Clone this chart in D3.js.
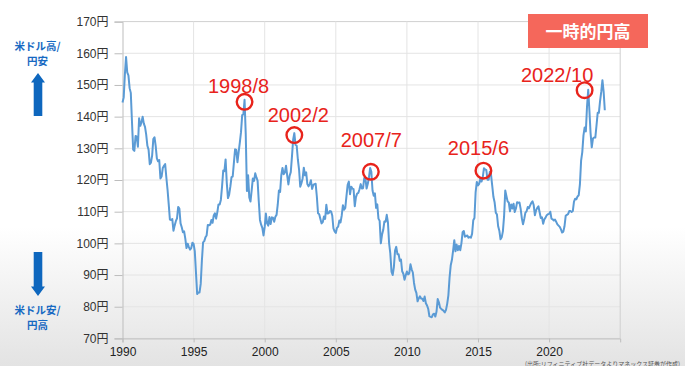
<!DOCTYPE html>
<html>
<head>
<meta charset="utf-8">
<script src="https://cdn.jsdelivr.net/npm/d3@7/dist/d3.min.js"></script>
<style>
  html, body { margin: 0; padding: 0; }
  body { width: 685px; height: 366px; overflow: hidden; }
  svg { display: block; }
</style>
</head>
<body>
<svg id="chart" width="685" height="366"></svg>
<script>
// ---------------- DATA ----------------
const startYear = 1990;
// USD/JPY monthly rates, Jan 1990 .. Dec 2023 (one row per year)
const monthlyRates = [
  144.5, 146.0, 153.3, 158.8, 154.0, 153.0, 149.0, 147.5, 138.4, 129.6, 129.2, 133.9, // 1990
  133.7, 130.5, 139.5, 137.1, 138.2, 140.0, 137.8, 136.8, 134.3, 130.8, 129.6, 125.0, // 1991
  125.5, 127.7, 132.9, 133.5, 130.8, 126.8, 125.9, 126.3, 120.5, 121.1, 123.8, 124.5, // 1992
  125.0, 120.8, 117.0, 112.4, 107.5, 107.4, 107.7, 104.0, 105.6, 107.0, 107.9, 111.5, // 1993
  111.0, 106.3, 105.1, 103.5, 103.8, 101.5, 98.5, 99.9, 98.8, 98.0, 98.5, 100.2,      // 1994
  99.8, 97.5, 90.8, 84.0, 84.5, 84.5, 87.2, 94.6, 100.3, 100.7, 101.9, 102.5,         // 1995
  105.8, 105.7, 105.9, 107.4, 106.5, 108.8, 109.5, 107.8, 109.8, 112.3, 112.3, 113.7, // 1996
  117.9, 123.0, 122.8, 126.5, 119.1, 114.3, 115.4, 117.9, 120.9, 121.1, 125.4, 129.7, // 1997
  129.5, 125.6, 128.8, 131.8, 135.1, 140.5, 140.7, 145.3, 134.5, 116.5, 121.5, 114.5, // 1998
  113.2, 116.7, 120.5, 119.7, 122.1, 120.8, 119.8, 113.3, 107.4, 105.9, 104.9, 102.5, // 1999
  105.2, 109.4, 106.3, 105.6, 108.3, 106.1, 108.2, 108.1, 106.8, 108.4, 109.0, 112.2, // 2000
  116.7, 116.2, 121.5, 123.8, 121.8, 122.4, 124.5, 121.4, 118.6, 121.3, 122.5, 127.4, // 2001
  132.7, 134.8, 131.1, 130.8, 126.4, 123.3, 117.9, 119.0, 120.5, 123.9, 121.5, 122.4, // 2002
  118.7, 118.0, 118.7, 119.9, 117.2, 118.4, 118.7, 118.8, 114.8, 109.5, 109.2, 107.7, // 2003
  106.3, 106.7, 108.5, 107.7, 112.2, 109.4, 109.5, 110.2, 110.1, 108.8, 104.7, 103.8, // 2004
  103.3, 104.9, 105.3, 107.2, 106.6, 108.8, 112.0, 110.6, 111.2, 114.9, 118.5, 119.5, // 2005
  115.5, 117.9, 117.3, 117.1, 111.7, 114.6, 115.7, 115.9, 117.1, 118.7, 117.3, 117.4, // 2006
  120.6, 120.5, 117.3, 118.8, 120.8, 123.8, 122.6, 116.7, 115.0, 115.8, 111.2, 112.3, // 2007
  107.8, 107.1, 100.0, 102.7, 104.2, 106.9, 106.8, 109.0, 106.6, 100.0, 96.8, 91.1,   // 2008
  90.0, 92.5, 97.7, 98.9, 96.6, 96.6, 94.5, 94.9, 91.2, 90.4, 88.5, 89.9,             // 2009
  91.1, 90.2, 90.5, 93.4, 91.8, 90.8, 87.5, 85.4, 84.4, 81.7, 82.6, 83.3,             // 2010
  82.6, 82.5, 81.8, 83.2, 81.1, 80.4, 79.3, 77.0, 76.8, 76.7, 77.6, 77.8,             // 2011
  76.9, 78.5, 82.4, 81.4, 79.7, 79.3, 79.0, 78.7, 78.2, 79.0, 80.9, 83.6,             // 2012
  89.2, 93.1, 94.8, 97.7, 101.0, 97.5, 99.6, 97.8, 99.2, 97.8, 100.0, 103.5,          // 2013
  103.9, 102.1, 102.3, 102.5, 101.8, 102.0, 101.8, 103.0, 107.3, 108.0, 116.2, 119.4, // 2014
  118.3, 118.8, 120.4, 119.5, 120.8, 123.7, 123.3, 123.2, 120.1, 120.1, 122.6, 121.6, // 2015
  118.2, 114.7, 113.0, 109.7, 109.1, 105.4, 104.0, 101.3, 101.9, 103.8, 108.5, 116.7, // 2016
  114.9, 113.2, 112.9, 110.1, 112.3, 111.0, 112.5, 109.9, 111.0, 113.0, 112.8, 112.9, // 2017
  110.9, 107.9, 106.0, 107.7, 109.7, 110.1, 111.5, 111.1, 112.0, 112.8, 113.3, 112.1, // 2018
  108.9, 110.4, 111.2, 111.7, 109.8, 108.0, 108.2, 106.2, 107.6, 108.1, 108.9, 109.2, // 2019
  109.3, 110.0, 107.8, 107.6, 107.2, 107.5, 106.8, 106.0, 105.6, 105.2, 104.4, 103.4, // 2020
  103.7, 105.4, 108.7, 109.0, 109.2, 110.2, 110.2, 109.9, 110.2, 113.2, 114.1, 113.9, // 2021
  114.8, 115.2, 118.6, 126.1, 128.8, 134.1, 136.6, 135.3, 143.2, 148.5, 142.0, 134.8, // 2022
  130.3, 133.1, 133.4, 133.4, 137.2, 141.2, 141.2, 144.9, 147.8, 151.5, 148.0, 142.0  // 2023
];

const xDomain = [1990, 2025];
const xTickYears = [1990, 1995, 2000, 2005, 2010, 2015, 2020];
const xGridYears = [1995, 2000, 2005, 2010, 2015, 2020, 2025];
const yDomain = [70, 170];
const yTickValues = [70, 80, 90, 100, 110, 120, 130, 140, 150, 160, 170];
const yUnit = "円";

// Annotated peaks: label, year, month
const peakLabels = ["1998/8", "2002/2", "2007/7", "2015/6", "2022/10"];
const peakYears  = [1998, 2002, 2007, 2015, 2022];
const peakMonths = [8, 2, 7, 6, 10];

const boxText = "一時的円高";
const upText = ["米ドル高/", "円安"];
const downText = ["米ドル安/", "円高"];
const sourceText = "(出所:リフィニティブ社データよりマネックス証券が作成)";

// ---------------- LAYOUT ----------------
const W = 685, H = 366;
const plot = { left: 122.5, right: 620.2, top: 21.6, bottom: 338.4 };
// per-annotation offsets: circle offset from data point, label baseline offset from circle centre
const annLayout = [
  { cdx: 0,    cdy: 2,   ldx: -6,   ldy: -9 },
  { cdx: 0,    cdy: 2,   ldx: 4,    ldy: -13 },
  { cdx: -0.5, cdy: 0,   ldx: 0.5,  ldy: -25 },
  { cdx: -0.5, cdy: 2.4, ldx: -5,   ldy: -16 },
  { cdx: -3.6, cdy: 0.5, ldx: -27.5,ldy: -8 }
];

const svg = d3.select("#chart");

// Background gradient
const defs = svg.append("defs");
const grad = defs.append("linearGradient").attr("id", "bg").attr("x1", 0).attr("y1", 0).attr("x2", 0).attr("y2", 1);
grad.append("stop").attr("offset", "0%").attr("stop-color", "#ffffff");
grad.append("stop").attr("offset", "62%").attr("stop-color", "#ffffff");
grad.append("stop").attr("offset", "100%").attr("stop-color", "#e3e3e3");
svg.append("rect").attr("x", 0).attr("y", 0).attr("width", W).attr("height", H).attr("fill", "url(#bg)");

const x = d3.scaleLinear().domain(xDomain).range([plot.left, plot.right]);
const y = d3.scaleLinear().domain(yDomain).range([plot.bottom, plot.top]);

const series = monthlyRates.map((v, i) => ({ t: startYear + i / 12, v }));

const fontNum = "'Liberation Sans', Arial, 'Noto Sans CJK JP', sans-serif";
const fontJP = "'Noto Sans CJK JP', sans-serif";

// Grid lines (horizontal)
svg.append("g").selectAll("line.hg").data(yTickValues).join("line")
  .attr("x1", plot.left).attr("x2", plot.right)
  .attr("y1", d => y(d)).attr("y2", d => y(d))
  .attr("stroke", d => d === 170 ? "#d0d0d0" : "#e4e4e4").attr("stroke-width", 1);

// Grid lines (vertical)
svg.append("g").selectAll("line.vg").data(xGridYears).join("line")
  .attr("x1", d => x(d)).attr("x2", d => x(d))
  .attr("y1", plot.top).attr("y2", plot.bottom)
  .attr("stroke", d => d === 2025 ? "#cfcfcf" : "#e4e4e4").attr("stroke-width", 1);

// Y axis
const yAxis = d3.axisLeft(y).tickValues(yTickValues).tickSize(8).tickPadding(6)
  .tickFormat(d => d + yUnit);
const gy = svg.append("g").attr("transform", `translate(${plot.left},0)`).call(yAxis);
gy.select(".domain").attr("stroke", "#bdbdbd");
gy.selectAll(".tick line").attr("stroke", "#bdbdbd");
gy.selectAll(".tick text").attr("font-family", fontNum).attr("font-size", 12).attr("fill", "#333");

// X axis
const xAxis = d3.axisBottom(x).tickValues(xTickYears).tickSize(4).tickPadding(5).tickFormat(d3.format("d"));
const gx = svg.append("g").attr("transform", `translate(0,${plot.bottom})`).call(xAxis);
gx.select(".domain").attr("stroke", "#bdbdbd");
gx.selectAll(".tick line").attr("stroke", "#bdbdbd");
gx.selectAll(".tick text").attr("font-family", fontNum).attr("font-size", 12).attr("fill", "#222");

// Line
const line = d3.line().x(d => x(d.t)).y(d => y(d.v));
svg.append("path").datum(series).attr("d", line)
  .attr("fill", "none").attr("stroke", "#5B9BD5").attr("stroke-width", 2)
  .attr("stroke-linejoin", "round");

// Annotations
const ann = peakLabels.map((label, i) => {
  const idx = (peakYears[i] - startYear) * 12 + (peakMonths[i] - 1);
  const d = series[idx];
  const L = annLayout[i];
  const cx = x(d.t) + L.cdx, cy = y(d.v) + L.cdy;
  return { label, cx, cy, lx: cx + L.ldx, ly: cy + L.ldy };
});
const ga = svg.append("g");
ga.selectAll("circle").data(ann).join("circle")
  .attr("cx", d => d.cx).attr("cy", d => d.cy).attr("r", 7.8)
  .attr("fill", "none").attr("stroke", "#E8231B").attr("stroke-width", 2.4);
ga.selectAll("text").data(ann).join("text")
  .attr("x", d => d.lx).attr("y", d => d.ly)
  .attr("text-anchor", "middle").attr("font-family", fontNum).attr("font-size", 20)
  .attr("fill", "#E8231B").text(d => d.label);

// Red box
const gb = svg.append("g");
gb.append("rect").attr("x", 528).attr("y", 14).attr("width", 120).attr("height", 34).attr("fill", "#F5675B");
gb.append("text").attr("x", 588).attr("y", 37.5).attr("text-anchor", "middle")
  .attr("font-family", fontJP).attr("font-weight", "bold").attr("font-size", 17)
  .attr("fill", "#ffffff").text(boxText);

// Left side arrows + labels
const blue = "#1769C2";
const gl = svg.append("g");
function twoLine(lines, baseY) {
  lines.forEach((s, i) => {
    gl.append("text").attr("text-anchor", "middle")
      .attr("x", 37.5).attr("y", baseY + i * 15.3)
      .attr("font-family", fontJP).attr("font-weight", "bold").attr("font-size", 10.5)
      .attr("fill", blue).text(s);
  });
}
twoLine(upText, 50);
twoLine(downText, 313.5);
const ax = 38;
gl.append("path")
  .attr("d", `M${ax},73 L${ax + 7},82.5 L${ax + 4.3},82.5 L${ax + 4.3},116 L${ax - 4.3},116 L${ax - 4.3},82.5 L${ax - 7},82.5 Z`)
  .attr("fill", "#0E67BE");
gl.append("path")
  .attr("d", `M${ax},296 L${ax + 7},286.5 L${ax + 4.3},286.5 L${ax + 4.3},252 L${ax - 4.3},252 L${ax - 4.3},286.5 L${ax - 7},286.5 Z`)
  .attr("fill", "#0E67BE");

// Source
svg.append("text").attr("x", 680).attr("y", 365.5).attr("text-anchor", "end")
  .attr("font-family", fontJP).attr("font-size", 6).attr("fill", "#555").text(sourceText);
</script>
</body>
</html>
